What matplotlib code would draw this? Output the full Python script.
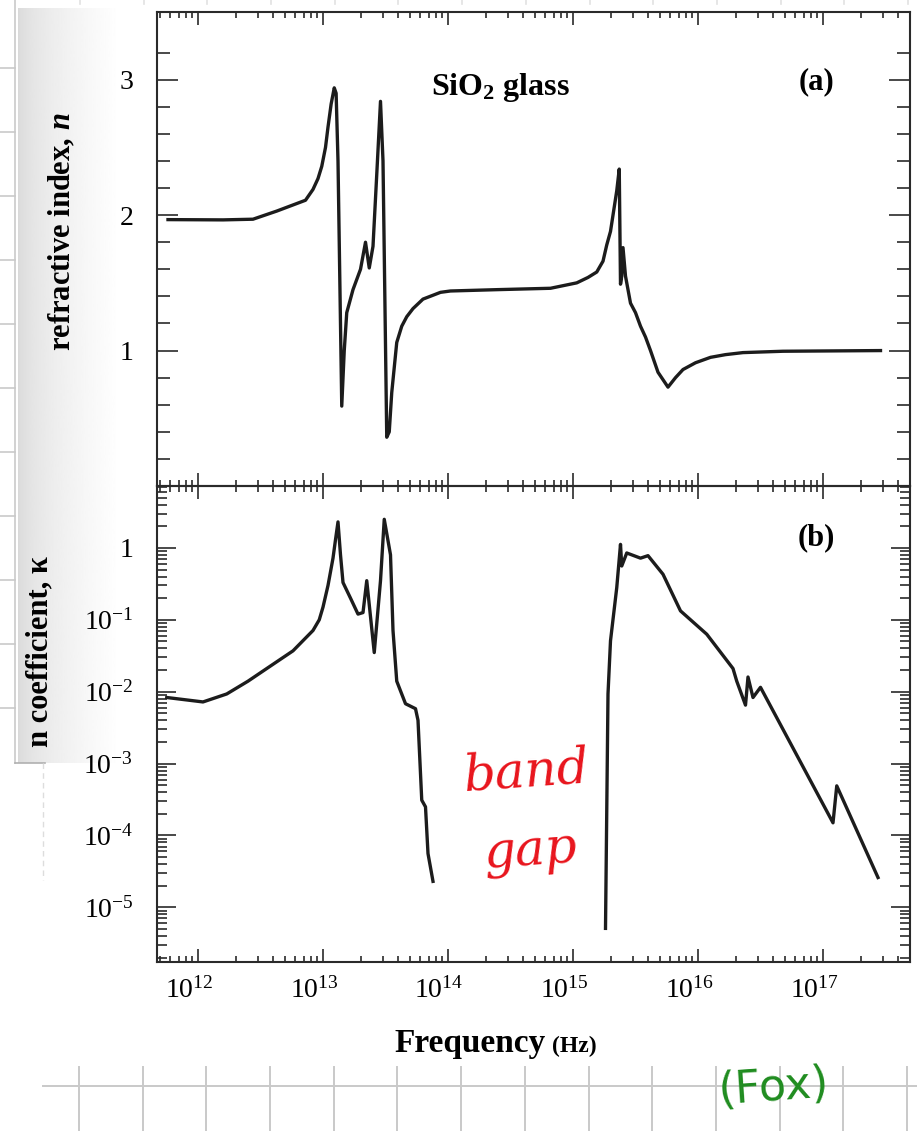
import matplotlib
matplotlib.use("Agg")
import matplotlib.pyplot as plt
import matplotlib.transforms as mtransforms
from matplotlib.ticker import FixedLocator, LogLocator, NullFormatter, FixedFormatter
import numpy as np

plt.rcParams['font.family'] = ['Liberation Serif', 'DejaVu Serif']
plt.rcParams['mathtext.fontset'] = 'custom'
plt.rcParams['mathtext.rm'] = 'Liberation Serif'
plt.rcParams['mathtext.it'] = 'Liberation Serif:italic'
plt.rcParams['mathtext.bf'] = 'Liberation Serif:bold'
plt.rcParams['mathtext.bfit'] = 'Liberation Serif:italic:bold'

# refractive index n, SiO2 glass (log10 of frequency in Hz)
logf_n = [11.76, 12.20, 12.44, 12.63, 12.86, 12.92, 12.96, 12.99, 13.02, 13.04,
          13.065, 13.09, 13.105, 13.12, 13.15, 13.17, 13.19, 13.24, 13.30, 13.34,
          13.37, 13.40, 13.43, 13.46, 13.48, 13.51, 13.53, 13.55, 13.59, 13.63,
          13.67, 13.72, 13.80, 13.94, 14.02, 14.40, 14.82, 15.03, 15.12, 15.19,
          15.24, 15.27, 15.30, 15.32, 15.35, 15.37, 15.38, 15.39, 15.40, 15.42,
          15.46, 15.50, 15.54, 15.58, 15.62, 15.68, 15.76, 15.82, 15.88, 15.98,
          16.10, 16.22, 16.36, 16.68, 17.46]
n_vals = [1.967, 1.965, 1.97, 2.03, 2.11, 2.19, 2.27, 2.36, 2.50, 2.65,
          2.82, 2.94, 2.90, 2.40, 0.59, 1.00, 1.28, 1.45, 1.60, 1.80,
          1.61, 1.77, 2.30, 2.84, 2.40, 0.36, 0.40, 0.69, 1.06, 1.18,
          1.25, 1.31, 1.38, 1.43, 1.44, 1.45, 1.46, 1.50, 1.54, 1.58,
          1.66, 1.78, 1.88, 2.00, 2.18, 2.34, 1.49, 1.55, 1.76, 1.55,
          1.35, 1.28, 1.18, 1.10, 1.00, 0.84, 0.73, 0.80, 0.86, 0.91,
          0.95, 0.97, 0.985, 0.995, 1.00]

# extinction coefficient, infrared part
logf_k_ir = [11.75, 12.04, 12.23, 12.40, 12.55, 12.76, 12.92, 12.97, 13.00, 13.04,
             13.08, 13.10, 13.12, 13.14, 13.16, 13.22, 13.28, 13.32, 13.35, 13.41,
             13.46, 13.49, 13.54, 13.56, 13.59, 13.66, 13.74, 13.76, 13.79, 13.82,
             13.84, 13.88]
k_ir = [8.3e-3, 7.2e-3, 9.3e-3, 1.4e-2, 2.1e-2, 3.7e-2, 7.1e-2, 0.10, 0.15, 0.30,
        0.72, 1.3, 2.3, 0.8, 0.33, 0.2, 0.12, 0.126, 0.35, 0.035,
        0.35, 2.5, 0.8, 0.071, 0.014, 6.8e-3, 5.8e-3, 4.0e-3, 3.1e-4, 2.5e-4,
        5.6e-5, 2.3e-5]

# extinction coefficient, ultraviolet / x-ray part
logf_k_uv = [15.26, 15.28, 15.30, 15.35, 15.38, 15.39, 15.43, 15.54, 15.60, 15.72,
             15.86, 16.07, 16.28, 16.31, 16.38, 16.40, 16.44, 16.50, 17.08, 17.11,
             17.44]
k_uv = [5.1e-6, 9.3e-3, 5.1e-2, 0.28, 1.12, 0.56, 0.85, 0.72, 0.78, 0.43,
        0.133, 0.063, 0.021, 0.014, 6.5e-3, 0.016, 8.3e-3, 0.0115, 1.5e-4, 4.9e-4,
        2.6e-5]

x_decades = [12, 13, 14, 15, 16, 17]
k_decades = [0, -1, -2, -3, -4, -5]
n_major = [1, 2, 3]

W, H = 917, 1131
fig = plt.figure(figsize=(W / 100, H / 100), dpi=100)
fig.patch.set_facecolor('white')

# notebook page behind the scanned figure
bg = fig.add_axes([0, 0, 1, 1], zorder=0)
bg.set_xlim(0, W)
bg.set_ylim(H, 0)
bg.axis('off')
grad = np.linspace(0, 1, 256) ** 0.6
grad = (0.85 + 0.15 * grad)[None, :]
bg.imshow(grad, cmap='gray', vmin=0, vmax=1, extent=(18, 120, 763, 8), aspect='auto')
gc = '#c9c9c9'
bg.plot([15, 15], [0, 763], color=gc, lw=1.2)
bg.plot([15, 45], [763, 763], color='#b0b0b0', lw=1.2)
bg.plot([43, 43], [763, 880], color='#dddddd', lw=1.0, ls=(0, (4, 3)))
for y in np.arange(68, 720, 64):
    bg.plot([0, 15], [y, y], color=gc, lw=1.2)
for x in np.arange(80, 910, 63.7):
    bg.plot([x, x], [0, 4], color='#e2e2e2', lw=1.2)
bg.plot([43, W], [1086, 1086], color=gc, lw=1.4)
for x in np.arange(79, W, 63.7):
    bg.plot([x, x], [1067, H], color=gc, lw=1.4)

line_kw = dict(color='#1c1c1c', lw=2.4, solid_joinstyle='round')

ax_a = fig.add_axes([157 / W, 1 - 486 / H, 753 / W, 474 / H], zorder=1)
ax_b = fig.add_axes([157 / W, 1 - 962 / H, 753 / W, 476 / H], zorder=1)

ax_a.plot(10 ** np.array(logf_n), n_vals, **line_kw)
ax_b.plot(10 ** np.array(logf_k_ir), k_ir, **line_kw)
ax_b.plot(10 ** np.array(logf_k_uv), k_uv, **line_kw)

for ax in (ax_a, ax_b):
    ax.set_facecolor('none')
    ax.set_xscale('log')
    ax.set_xlim(10 ** 11.672, 10 ** 17.696)
    ax.xaxis.set_major_locator(FixedLocator([10.0 ** d for d in x_decades]))
    ax.xaxis.set_minor_locator(LogLocator(base=10, subs=np.arange(2, 10), numticks=20))
    ax.xaxis.set_minor_formatter(NullFormatter())
    for s in ax.spines.values():
        s.set_linewidth(1.5)
        s.set_color('#2a2a2a')
    ax.tick_params(which='both', direction='in', top=True, right=True,
                   width=1.2, color='#2a2a2a', labelsize=20)
    ax.tick_params(axis='x', which='major', length=9.5, pad=11)
    ax.tick_params(axis='x', which='minor', length=4.5)

ax_a.set_ylim(0, 3.5)
ax_a.yaxis.set_major_locator(FixedLocator(n_major))
ax_a.yaxis.set_major_formatter(FixedFormatter([str(v) for v in n_major]))
ax_a.yaxis.set_minor_locator(FixedLocator(np.arange(0.2, 3.3, 0.2)))
ax_a.tick_params(axis='y', which='major', length=15, pad=17)
ax_a.tick_params(axis='y', which='minor', length=9.5)
ax_a.tick_params(axis='x', labelbottom=False)

ax_b.set_yscale('log')
ax_b.set_ylim(10 ** -5.76, 10 ** 0.861)
ax_b.yaxis.set_major_locator(FixedLocator([10.0 ** d for d in k_decades]))
ax_b.yaxis.set_major_formatter(FixedFormatter(
    ['1' if d == 0 else r'$10^{%d}$' % d for d in k_decades]))
ax_b.yaxis.set_minor_locator(LogLocator(base=10, subs=np.arange(2, 10), numticks=20))
ax_b.yaxis.set_minor_formatter(NullFormatter())
ax_b.tick_params(axis='y', which='major', length=14, pad=17)
ax_b.tick_params(axis='y', which='minor', length=7)
ax_b.xaxis.set_major_formatter(FixedFormatter([r'$10^{%d}$' % d for d in x_decades]))

shift = mtransforms.ScaledTranslation(-9 / 100, 0, fig.dpi_scale_trans)
for lab in ax_b.get_xticklabels():
    lab.set_transform(lab.get_transform() + shift)

T = bg.transData
fig.text(500, 88, r'SiO$_{\mathbf{2}}$ glass', transform=T, ha='center', va='center',
         fontsize=23, weight='bold')
fig.text(816, 82, '(a)', transform=T, ha='center', va='center', fontsize=22, weight='bold')
fig.text(816, 538, '(b)', transform=T, ha='center', va='center', fontsize=22, weight='bold')
fig.text(62, 232, r'refractive index, $\mathbfit{n}$', transform=T, rotation=90,
         ha='center', va='center', fontsize=22, weight='bold')
fig.text(40, 652, 'n coefficient, κ', transform=T, rotation=90,
         ha='center', va='center', fontsize=22, weight='bold')
fig.text(546, 1052, 'Frequency', transform=T, ha='right', va='baseline',
         fontsize=24, weight='bold')
fig.text(552, 1052, '(Hz)', transform=T, ha='left', va='baseline',
         fontsize=17, weight='bold')

# handwritten notes
fig.text(527, 772, 'band', transform=T, ha='center', va='center', fontsize=36,
         style='italic', color='#e8141c', family=['DejaVu Serif'], rotation=4)
fig.text(530, 852, 'gap', transform=T, ha='center', va='center', fontsize=36,
         style='italic', color='#e8141c', family=['DejaVu Serif'], rotation=4)
fig.text(773, 1088, '(Fox)', transform=T, ha='center', va='center', fontsize=32,
         color='#1f8c1f', family=['DejaVu Sans'], rotation=4)

fig.savefig('out.png', dpi=100)
